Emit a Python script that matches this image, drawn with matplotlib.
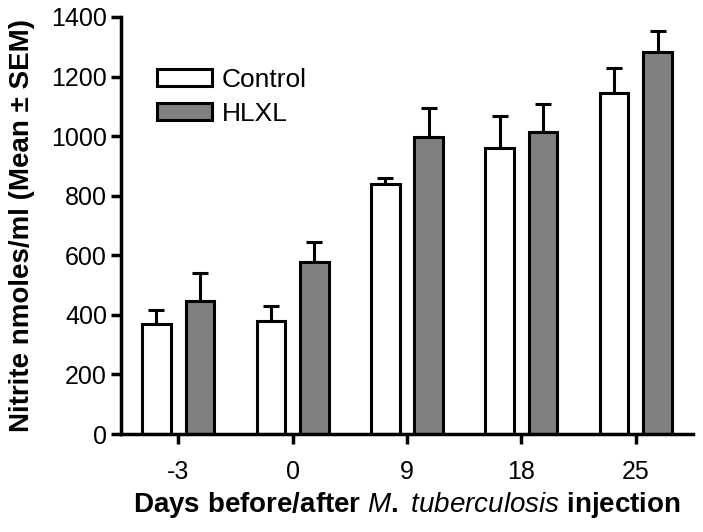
import matplotlib
matplotlib.use("Agg")
import matplotlib.pyplot as plt
import numpy as np

plt.rcParams['font.family'] = ['Liberation Sans', 'DejaVu Sans']
plt.rcParams['mathtext.fontset'] = 'custom'
plt.rcParams['mathtext.it'] = 'Liberation Sans:italic'
plt.rcParams['mathtext.rm'] = 'Liberation Sans:bold'

days = ["-3", "0", "9", "18", "25"]
control_mean = [369, 380, 840, 959, 1144]
control_sem = [47, 50, 20, 107, 84]
hlxl_mean = [446, 577, 998, 1015, 1282]
hlxl_sem = [94, 67, 96, 92, 71]
yticks = [0, 200, 400, 600, 800, 1000, 1200, 1400]

fig = plt.figure(figsize=(7.03, 5.32), dpi=100)
ax = fig.add_axes([121/703, 1-434/532, (693-121)/703, (434-17)/532])

x = np.arange(len(days))
w = 0.25
off = 0.19
lw = 2.2
ax.bar(x - off, control_mean, w, color='white', edgecolor='black', linewidth=lw, label='Control', zorder=2)
ax.bar(x + off, hlxl_mean, w, color='#808080', edgecolor='black', linewidth=lw, label='HLXL', zorder=2)
ax.errorbar(x - off, control_mean, yerr=[np.zeros(5), control_sem], fmt='none', ecolor='black',
            elinewidth=2.2, capsize=5.5, capthick=2.2, zorder=1)
ax.errorbar(x + off, hlxl_mean, yerr=[np.zeros(5), hlxl_sem], fmt='none', ecolor='black',
            elinewidth=2.2, capsize=5.5, capthick=2.2, zorder=1)

ax.set_xlim(-0.5, 4.5)
ax.set_ylim(0, 1400)
ax.set_xticks(x)
ax.set_xticklabels(days)
ax.set_yticks(yticks)
ax.tick_params(axis='both', direction='out', width=2.5, length=7, labelsize=18, pad=3)
ax.tick_params(axis='x', pad=12)
for s in ['top', 'right']:
    ax.spines[s].set_visible(False)
for s in ['left', 'bottom']:
    ax.spines[s].set_linewidth(2.5)

ax.set_ylabel('Nitrite nmoles/ml (Mean ± SEM)', fontsize=20, fontweight='bold', labelpad=12)
ax.set_xlabel(r'Days before/after $\mathit{M.}$ $\mathit{tuberculosis}$ injection', fontsize=20,
              fontweight='bold', labelpad=4)

leg = ax.legend(loc='upper left', bbox_to_anchor=(0.063, 0.878), frameon=False, fontsize=19,
                handlelength=2.1, handleheight=0.6, handletextpad=0.35, labelspacing=0.38,
                borderpad=0, borderaxespad=0)

fig.savefig('out.png', dpi=100)
